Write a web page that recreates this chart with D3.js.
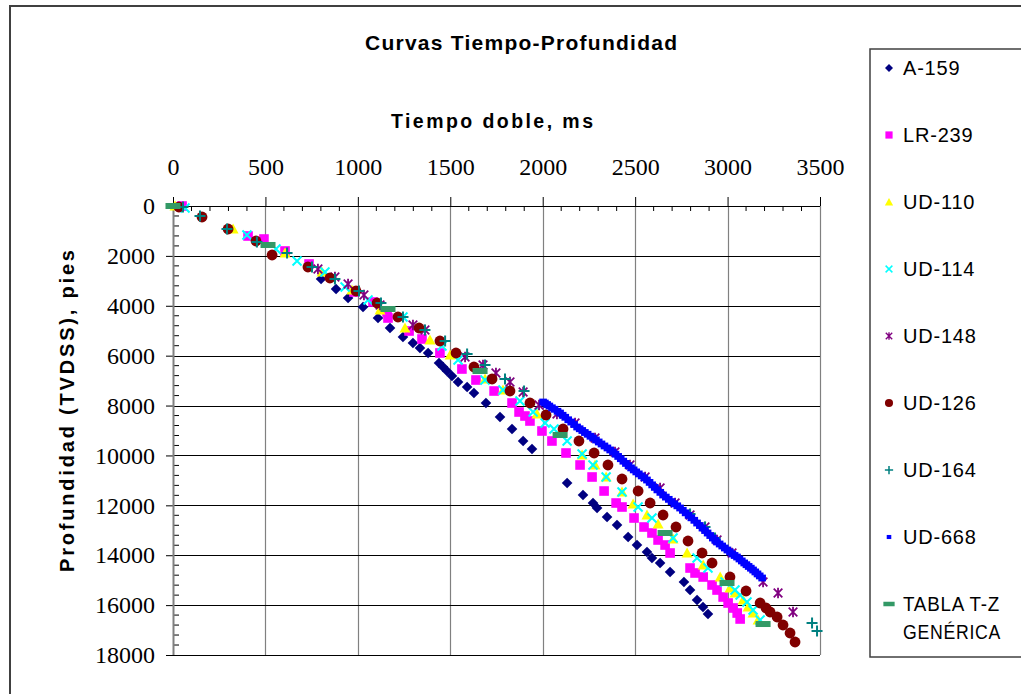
<!DOCTYPE html>
<html>
<head>
<meta charset="utf-8">
<script src="https://cdn.jsdelivr.net/npm/d3@7"></script>
<style>
    body { margin: 0; background: #fff; }
    svg { display: block; }
    .tick text { font-family: "Liberation Serif", "Times New Roman", serif; font-size: 24px; fill: #000; }
    .title { font-family: "Liberation Sans", Arial, sans-serif; font-weight: bold; fill: #000; }
    .legend text { font-family: "Liberation Sans", Arial, sans-serif; font-size: 20px; letter-spacing: 0.8px; fill: #000; }
</style>
</head>
<body>
<div id="chart"></div>
<script>
// [tiempo doble ms, profundidad pies]
var a159 = [[801,2927],[882,3327],[947,3688],[1028,4049],[1109,4490],[1174,4891],[1244,5252],[1298,5492],[1336,5693],[1380,5893],[1439,6294],[1461,6454],[1482,6615],[1509,6815],[1542,7056],[1591,7256],[1628,7497],[1693,7898],[1769,8459],[1834,8940],[1894,9421],[1942,9742],[2132,11105],[2218,11586],[2272,11907],[2294,12107],[2348,12468],[2402,12789],[2462,13270],[2510,13591],[2564,13871],[2591,14112],[2635,14312],[2689,14673],[2764,15074],[2797,15395],[2835,15795],[2867,16076],[2894,16357]];
var lr239 = [[49,0],[406,1203],[492,1323],[606,1804],[736,2325],[979,3448],[1082,3849],[1158,4250],[1163,4490],[1277,5011],[1347,5332],[1444,5893],[1563,6535],[1639,6976],[1737,7417],[1834,7898],[1872,8259],[1904,8419],[1931,8619],[1996,9020],[2050,9421],[2126,9902],[2202,10383],[2267,10864],[2332,11426],[2397,11907],[2429,12067],[2494,12508],[2548,12869],[2591,13109],[2624,13390],[2662,13591],[2689,13911],[2797,14513],[2824,14713],[2868,14873],[2916,15194],[2943,15395],[2976,15675],[3003,15916],[3030,16116],[3052,16317],[3068,16557]];
var ud110 = [[11,0],[325,922],[606,1884],[806,2646],[968,3368],[1120,4169],[1255,4891],[1390,5372],[1499,5973],[1688,6936],[1785,7377],[1969,8339],[2094,9060],[2213,9982],[2283,10383],[2343,10864],[2429,11466],[2489,11947],[2564,12388],[2624,12749],[2705,13350],[2781,13911],[2868,14393],[2960,14874],[3013,15315],[3040,15515],[3084,15796],[3111,16076],[3138,16317],[3165,16597]];
var ud114 = [[65,80],[400,1163],[557,1724],[671,2205],[822,2646],[931,3247],[1055,3768],[1244,4450],[1455,5613],[1542,6174],[1688,6976],[1785,7377],[1877,7818],[1948,8259],[2013,8700],[2061,8940],[2132,9421],[2213,9942],[2272,10383],[2343,10864],[2429,11466],[2516,12067],[2591,12508],[2705,13310],[2835,14112],[2894,14513],[2986,15074],[3040,15395],[3068,15595],[3105,15876],[3138,16196],[3176,16597]];
var ud148 = [[784,2526],[876,2846],[947,3127],[1033,3568],[1120,3969],[1298,4771],[1363,4971],[1580,6054],[1677,6374],[1747,6695],[1823,7056],[1894,7457],[1980,7978],[2077,8339],[2175,8700],[2283,9301],[2391,9862],[2472,10383],[2554,10864],[2635,11305],[2716,11907],[2797,12388],[2878,12869],[2943,13390],[3024,13911],[3192,15074],[3273,15515],[3354,16277]];
var ud126 = [[32,40],[157,441],[298,922],[449,1403],[536,1964],[730,2445],[849,2886],[990,3408],[1104,3889],[1217,4450],[1331,4891],[1444,5412],[1531,5893],[1628,6454],[1726,6936],[1823,7417],[1931,7898],[2018,8379],[2110,8940],[2196,9421],[2278,9902],[2353,10383],[2429,10945],[2516,11426],[2581,11907],[2651,12388],[2721,12869],[2786,13430],[2862,13911],[2916,14312],[3013,14873],[3100,15435],[3176,15916],[3208,16116],[3230,16277],[3268,16477],[3300,16798],[3338,17118],[3365,17479]];
var ud164 = [[54,40],[146,401],[292,922],[454,1443],[617,1884],[752,2445],[876,2927],[1006,3408],[1125,3889],[1244,4450],[1363,4971],[1472,5412],[1591,5933],[1688,6374],[1796,6936],[1899,7417],[2797,12348],[2878,12869],[2932,13310],[3457,16718],[3484,17038]];
var ud668 = [[2002,7858],[2012,7900],[2024,7960],[2036,8020],[2050,8090],[2064,8150],[2080,8230],[2094,8300],[2108,8390],[2122,8470],[2138,8570],[2154,8660],[2170,8760],[2186,8860],[2200,8930],[2214,9000],[2228,9080],[2243,9150],[2258,9230],[2272,9300],[2288,9380],[2303,9460],[2318,9540],[2334,9620],[2350,9700],[2365,9780],[2380,9860],[2394,9950],[2408,10040],[2422,10130],[2436,10230],[2450,10320],[2464,10410],[2478,10500],[2492,10580],[2506,10660],[2520,10740],[2535,10820],[2550,10900],[2564,10985],[2578,11080],[2592,11180],[2606,11280],[2620,11380],[2636,11480],[2651,11586],[2666,11670],[2682,11760],[2697,11850],[2712,11940],[2728,12020],[2743,12107],[2758,12200],[2773,12300],[2789,12400],[2804,12500],[2820,12600],[2835,12709],[2850,12810],[2864,12910],[2878,13010],[2892,13110],[2906,13210],[2920,13310],[2933,13400],[2943,13470],[2957,13550],[2971,13630],[2985,13710],[2999,13790],[3013,13870],[3026,13950],[3038,14010],[3051,14072],[3064,14150],[3077,14230],[3090,14310],[3102,14380],[3114,14450],[3126,14520],[3138,14593],[3150,14670],[3162,14750],[3174,14830],[3187,14913]];
var tablaTZ = [[0,0],[514,1563],[1163,4129],[1661,6615],[2094,9180],[2662,13109],[2997,15114],[3192,16758]];

var seriesNames = ['A-159', 'LR-239', 'UD-110', 'UD-114', 'UD-148', 'UD-126', 'UD-164', 'UD-668', 'TABLA T-Z GENÉRICA'];
var xTicks = [0, 500, 1000, 1500, 2000, 2500, 3000, 3500];
var yTicks = [0, 2000, 4000, 6000, 8000, 10000, 12000, 14000, 16000, 18000];

var W = 1021, H = 694;
var svg = d3.select('#chart').append('svg').attr('width', W).attr('height', H);

// outer border of the chart
svg.append('rect')
    .attr('x', 10).attr('y', 6).attr('width', 1040).attr('height', 720)
    .attr('fill', 'none').attr('stroke', '#404040').attr('stroke-width', 2);

const xScale = d3.scaleLinear().domain([0, 3500]).range([173, 820]);
const yScale = d3.scaleLinear().domain([0, 18000]).range([206, 655]);

// grid
svg.append('g').selectAll('line')
    .data(xTicks.slice(1)).enter().append('line')
    .attr('x1', d => Math.round(xScale(d)) + 0.5).attr('x2', d => Math.round(xScale(d)) + 0.5)
    .attr('y1', yScale(0)).attr('y2', yScale(18000))
    .attr('stroke', '#808080').attr('stroke-width', 1.2);
svg.append('g').selectAll('line')
    .data(yTicks.slice(1)).enter().append('line')
    .attr('x1', xScale(0)).attr('x2', xScale(3500))
    .attr('y1', d => Math.round(yScale(d)) + 0.5).attr('y2', d => Math.round(yScale(d)) + 0.5)
    .attr('stroke', '#000').attr('stroke-width', 1.2);

// top axis
var xAxis = svg.append('g')
    .attr('transform', 'translate(0,' + yScale(0) + ')')
    .call(d3.axisTop(xScale).tickValues(xTicks).tickSize(9).tickPadding(22).tickFormat(d3.format('d')));
xAxis.select('.domain').remove();
xAxis.selectAll('.tick line').attr('stroke', '#000');
svg.append('g').selectAll('line')
    .data(d3.range(0, 3501, 100).filter(v => v % 500 != 0)).enter().append('line')
    .attr('x1', d => xScale(d)).attr('x2', d => xScale(d))
    .attr('y1', yScale(0)).attr('y2', yScale(0) + 5)
    .attr('stroke', '#000');
svg.append('line')
    .attr('x1', xScale(0)).attr('x2', xScale(3500))
    .attr('y1', yScale(0) + 0.5).attr('y2', yScale(0) + 0.5)
    .attr('stroke', '#000').attr('stroke-width', 1.2);

// left axis
var yAxis = svg.append('g')
    .attr('transform', 'translate(' + xScale(0) + ',0)')
    .call(d3.axisLeft(yScale).tickValues(yTicks).tickSize(7).tickPadding(11).tickFormat(d3.format('d')));
yAxis.select('.domain').remove();
yAxis.selectAll('.tick line').attr('stroke', '#000');
svg.append('g').selectAll('line')
    .data(d3.range(0, 18001, 400).filter(v => v % 2000 != 0)).enter().append('line')
    .attr('x1', xScale(0)).attr('x2', xScale(0) + 6)
    .attr('y1', d => yScale(d)).attr('y2', d => yScale(d))
    .attr('stroke', '#000');
svg.append('line')
    .attr('x1', xScale(0) + 0.5).attr('x2', xScale(0) + 0.5)
    .attr('y1', yScale(0)).attr('y2', yScale(18000))
    .attr('stroke', '#808080').attr('stroke-width', 2);

// titles
svg.append('text').attr('class', 'title')
    .attr('x', 521).attr('y', 50).attr('text-anchor', 'middle')
    .style('font-size', '21px')
    .attr('textLength', 312).attr('lengthAdjust', 'spacing')
    .text('Curvas Tiempo-Profundidad');
svg.append('text').attr('class', 'title')
    .attr('x', 492).attr('y', 128).attr('text-anchor', 'middle')
    .style('font-size', '19.5px')
    .attr('textLength', 202).attr('lengthAdjust', 'spacing')
    .text('Tiempo doble, ms');
svg.append('text').attr('class', 'title')
    .attr('transform', 'translate(74,411) rotate(-90)')
    .attr('text-anchor', 'middle')
    .style('font-size', '20px')
    .attr('textLength', 322).attr('lengthAdjust', 'spacing')
    .text('Profundidad (TVDSS), pies');

// marker drawers, s = scale factor
function drawMarker(g, k, s) {
    if (k == 0) {
        g.append('path').attr('d', `M0,${-5.3*s}L${5.3*s},0L0,${5.3*s}L${-5.3*s},0Z`).attr('fill', '#000080');
    } else if (k == 1) {
        g.append('rect').attr('x', -4.8*s).attr('y', -4.8*s).attr('width', 9.6*s).attr('height', 9.6*s).attr('fill', '#FF00FF');
    } else if (k == 2) {
        g.append('path').attr('d', `M0,${-5.5*s}L${5.5*s},${4.5*s}L${-5.5*s},${4.5*s}Z`).attr('fill', '#FFFF00');
    } else if (k == 3) {
        var r = 4.5*s;
        g.append('path').attr('d', `M${-r},${-r}L${r},${r}M${-r},${r}L${r},${-r}`)
            .attr('stroke', '#00FFFF').attr('stroke-width', 2*s).attr('fill', 'none');
    } else if (k == 4) {
        var r = 4.3*s;
        g.append('path').attr('d', `M${-r},${-r}L${r},${r}M${-r},${r}L${r},${-r}M0,${-r*1.2}L0,${r*1.2}`)
            .attr('stroke', '#800080').attr('stroke-width', 1.8*s).attr('fill', 'none');
    } else if (k == 5) {
        g.append('circle').attr('r', 5.4*s).attr('fill', '#800000');
    } else if (k == 6) {
        var r = 5.5*s;
        g.append('path').attr('d', `M${-r},0L${r},0M0,${-r}L0,${r}`)
            .attr('stroke', '#008080').attr('stroke-width', 2*s).attr('fill', 'none');
    } else if (k == 7) {
        g.append('rect').attr('x', -3.8*s).attr('y', -3.4*s).attr('width', 7.6*s).attr('height', 6.8*s).attr('fill', '#0000FF');
    } else {
        g.append('rect').attr('x', -7.5*s).attr('y', -3*s).attr('width', 15*s).attr('height', 6*s).attr('fill', '#339966');
    }
}

var allSeries = [a159, lr239, ud110, ud114, ud148, ud126, ud164, ud668, tablaTZ];
allSeries.forEach(function (data, k) {
    svg.append('g').selectAll('g')
        .data(data).enter().append('g')
        .attr('transform', d => `translate(${xScale(d[0])},${yScale(d[1])})`)
        .each(function () { drawMarker(d3.select(this), k, 1); });
});

// legend
var legend = svg.append('g').attr('class', 'legend');
legend.append('rect')
    .attr('x', 870).attr('y', 49).attr('width', 170).attr('height', 608)
    .attr('fill', '#fff').attr('stroke', '#404040').attr('stroke-width', 1.5);
seriesNames.forEach(function (name, k) {
    var cy = 68 + k * 67;
    var m = legend.append('g').attr('transform', `translate(889,${cy})`);
    drawMarker(m, k, k == 7 ? 0.6 : 0.75);
    if (k == 8) {
        legend.append('text').attr('x', 903).attr('y', cy + 7)
            .attr('textLength', 97).attr('lengthAdjust', 'spacingAndGlyphs').text('TABLA T-Z');
        legend.append('text').attr('x', 903).attr('y', cy + 35)
            .attr('textLength', 98).attr('lengthAdjust', 'spacingAndGlyphs').text('GENÉRICA');
    } else {
        legend.append('text').attr('x', 903).attr('y', cy + 7).text(name);
    }
});
</script>
</body>
</html>
